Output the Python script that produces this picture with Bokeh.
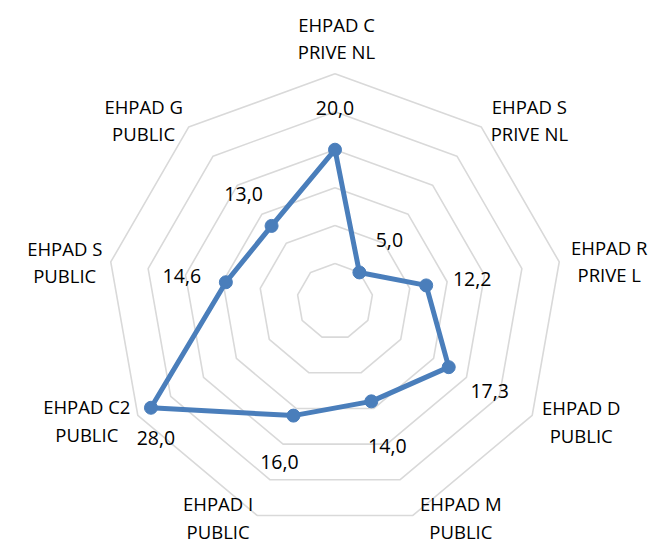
import numpy as np
from bokeh.plotting import figure
from bokeh.models import ColumnDataSource, Range1d
from bokeh.core.properties import value
from bokeh.embed import file_html
from bokeh.resources import INLINE

# ---- data ----
categories = ["EHPAD C\nPRIVE NL", "EHPAD S\nPRIVE NL", "EHPAD R\nPRIVE L",
              "EHPAD D\nPUBLIC", "EHPAD M\nPUBLIC", "EHPAD I\nPUBLIC",
              "EHPAD C2\nPUBLIC", "EHPAD S\nPUBLIC", "EHPAD G\nPUBLIC"]
values = [20.0, 5.0, 12.2, 17.3, 14.0, 16.0, 28.0, 14.6, 13.0]
value_labels = ["20,0", "5,0", "12,2", "17,3", "14,0", "16,0", "28,0", "14,6", "13,0"]
ring_levels = [5, 10, 15, 20, 25, 30]
axis_max = 30

# ---- layout (pixels) ----
W, H = 651, 546
cx_px, cy_px = 334.5, 301.0          # centre in figure pixels (from top-left)
R_px = 227.7                          # outer ring radius in pixels
scale = R_px / axis_max               # px per unit

# label offsets (pixels, relative to point / outer vertex)
val_dx = [0, 30, 46, 41, 16, -14, 5, -44, -28]
val_dy = [-42, -32, -6, 24, 45, 46, 30, -6, -32]
cat_dx = [1.5, 48, 50, 49, 48, -39, -51, -46, -45]
cat_dy = [-36, -7, -1, 6, 2, 2, 5, 0, -7]

n = len(categories)
theta = np.arange(n) * 2 * np.pi / n

def to_xy(r):
    r = np.asarray(r, dtype=float)
    return r * np.sin(theta), r * np.cos(theta)

p = figure(width=W, height=H, output_backend="svg", toolbar_location=None,
           x_range=Range1d(-cx_px / scale, (W - cx_px) / scale),
           y_range=Range1d(-(H - cy_px) / scale, cy_px / scale),
           min_border=0)
p.axis.visible = False
p.grid.visible = False
p.outline_line_color = None
p.background_fill_color = "white"
p.border_fill_color = "white"

# rings
for lv in ring_levels:
    xs, ys = to_xy([lv] * n)
    p.line(list(xs) + [xs[0]], list(ys) + [ys[0]], line_color="#d9d9d9", line_width=1.6)

# series
xs, ys = to_xy(values)
blue = "#4a7ebb"
p.line(list(xs) + [xs[0]], list(ys) + [ys[0]], line_color=blue, line_width=5, line_join="round")
p.scatter(xs, ys, size=13, fill_color=blue, line_color=blue)

# value labels
src = ColumnDataSource(dict(x=xs, y=ys, t=value_labels, dx=val_dx, dy=val_dy))
p.text(x="x", y="y", text="t", x_offset="dx", y_offset="dy", source=src,
       text_font=value("Open Sans"), text_font_size="19.5px", text_color="black",
       text_align="center", text_baseline="middle")

# category labels
ox, oy = to_xy([axis_max] * n)
csrc = ColumnDataSource(dict(x=ox, y=oy, t=categories, dx=cat_dx, dy=cat_dy))
p.text(x="x", y="y", text="t", x_offset="dx", y_offset="dy", source=csrc,
       text_font=value("Open Sans"), text_font_size="18.5px", text_color="black",
       text_align="center", text_baseline="middle", text_line_height=1.1)

open("out.html", "w").write(file_html(p, INLINE))
